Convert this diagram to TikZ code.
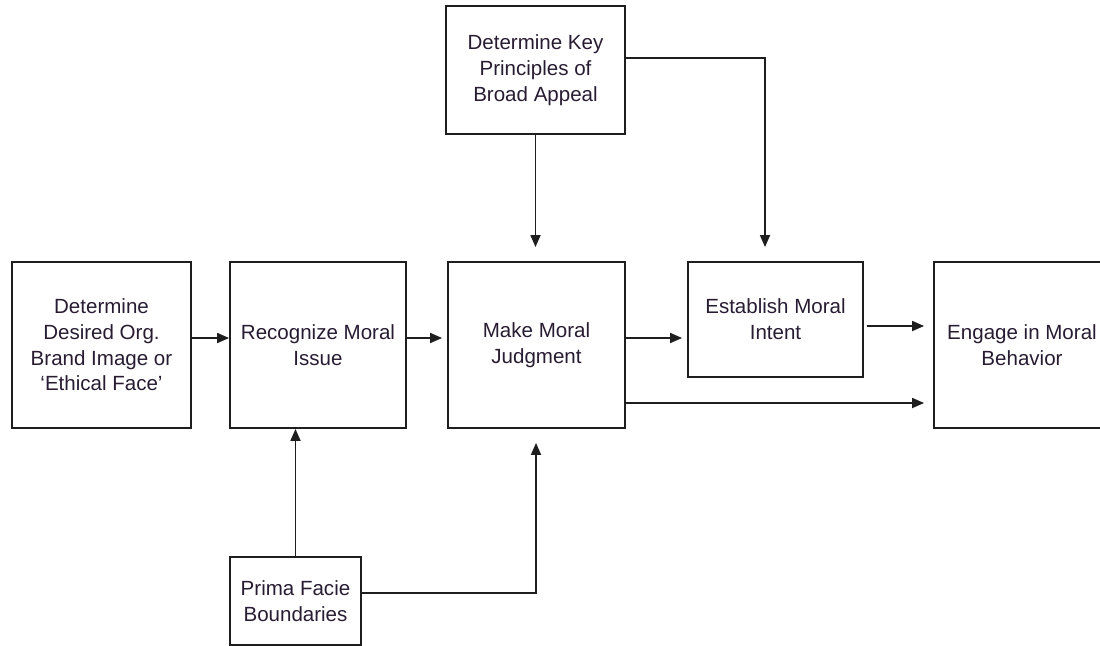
\documentclass[tikz,border=0pt]{standalone}
\usepackage{fontspec}
\setmainfont{Liberation Sans}
\usetikzlibrary{arrows.meta}
\definecolor{txt}{RGB}{40,28,50}
\definecolor{ln}{RGB}{30,30,30}
\tikzset{
  box/.style={draw=ln, line width=1.4pt, inner sep=0pt, align=center, text=txt,
    font=\fontsize{15.4}{19.3}\selectfont},
  arr/.style={draw=ln, line width=1.3pt, -{Triangle[length=9pt,width=7.5pt]}},
}
\begin{document}
\begin{tikzpicture}[x=0.75pt,y=-0.75pt]
\useasboundingbox (0,0) rectangle (1100,646);
\clip (0,0) rectangle (1100,646);
\fill[white] (0,0) rectangle (1100,646);
% nodes
\node[box, minimum width=179*0.75pt, minimum height=166*0.75pt] (b1) at (101.5,345) {Determine\\Desired Org.\\Brand Image or\\`Ethical Face'};
\node[box, minimum width=176*0.75pt, minimum height=166*0.75pt] (b2) at (318,345) {Recognize Moral\\Issue};
\node[box, minimum width=177*0.75pt, minimum height=166*0.75pt] (b3) at (536.5,345) {Make Moral\\Judgment};
\node[box, minimum width=175*0.75pt, minimum height=115*0.75pt] (b4) at (775.5,319.5) {Establish Moral\\Intent};
\node[box, minimum width=176*0.75pt, minimum height=166*0.75pt] (b5) at (1022,345) {Engage in Moral\\Behavior};
\node[box, minimum width=179*0.75pt, minimum height=128*0.75pt] (b6) at (535.5,70) {Determine Key\\Principles of\\Broad Appeal};
\node[box, minimum width=131*0.75pt, minimum height=88*0.75pt] (b7) at (295.5,601) {Prima Facie\\Boundaries};
% helper coordinates
\coordinate (r1) at (0,338);
\coordinate (r2) at (0,326);
\coordinate (r3) at (0,403);
\coordinate (k1) at (765,58);
\coordinate (k2) at (536,593);
% connectors
\draw[arr] (b1.east |- r1) -- (b2.west |- r1);
\draw[arr, shorten >=3.75pt] (b2.east |- r1) -- (b3.west |- r1);
\draw[arr, shorten >=3.75pt] (b3.east |- r1) -- (b4.west |- r1);
\draw[arr, shorten <=2.25pt, shorten >=6.75pt] (b4.east |- r2) -- (b5.west |- r2);
\draw[arr, shorten >=6.75pt] (b3.east |- r3) -- (b5.west |- r3);
\draw[arr, shorten >=10.5pt] (b6.south) -- (b6.south |- b3.north);
\draw[arr, shorten >=10.5pt] (b6.east |- k1) -- (k1) -- (k1 |- b4.north);
\draw[arr] (b7.north) -- (b7.north |- b2.south);
\draw[arr, shorten >=10.5pt] (b7.east |- k2) -- (k2) -- (k2 |- b3.south);
\end{tikzpicture}
\end{document}
